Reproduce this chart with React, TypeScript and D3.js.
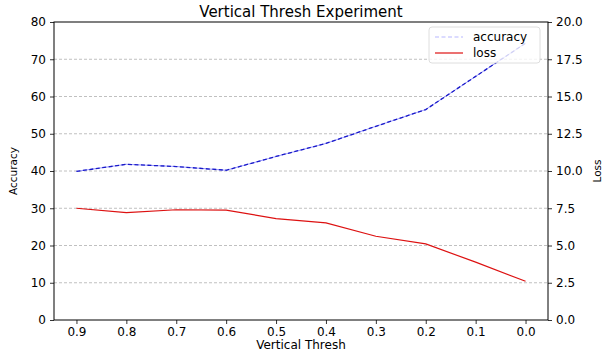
import { useEffect, useRef } from 'react';
import * as d3 from 'd3';

// threshold values along the (inverted) x axis
const thresholds = [0.9, 0.8, 0.7, 0.6, 0.5, 0.4, 0.3, 0.2, 0.1, 0.0];
// accuracy (left axis, %)
const accuracy = [39.9, 41.8, 41.2, 40.2, 43.9, 47.4, 52.0, 56.5, 65.4, 74.3];
// loss (right axis)
const loss = [7.5, 7.2, 7.4, 7.38, 6.8, 6.52, 5.62, 5.11, 3.88, 2.6];

const xTicks = [0.9, 0.8, 0.7, 0.6, 0.5, 0.4, 0.3, 0.2, 0.1, 0.0];
const accTicks = [0, 10, 20, 30, 40, 50, 60, 70, 80];
const lossTicks = [0, 2.5, 5, 7.5, 10, 12.5, 15, 17.5, 20];

const FONT = 'DejaVu Sans, sans-serif';

export default function App() {
	const svgRef = useRef<SVGSVGElement | null>(null);

	useEffect(() => {
		const svg = d3.select(svgRef.current);
		svg.selectAll('*').remove();

		const width = 604;
		const height = 352;
		const margin = { top: 22, right: 56, bottom: 32, left: 54 };
		const w = width - margin.left - margin.right;
		const h = height - margin.top - margin.bottom;

		svg.attr('width', width).attr('height', height).style('font-family', FONT);

		const g = svg.append('g').attr('transform', `translate(${margin.left},${margin.top})`);

		const x = d3.scaleLinear().domain([0.945, -0.045]).range([0, w]);
		const yAcc = d3.scaleLinear().domain([0, 80]).range([h, 0]);
		const yLoss = d3.scaleLinear().domain([0, 20]).range([h, 0]);

		// gridlines
		g.append('g')
			.selectAll('line')
			.data(accTicks.filter((t) => t > 0 && t < 80))
			.join('line')
			.attr('x1', 0)
			.attr('x2', w)
			.attr('y1', (d) => yAcc(d))
			.attr('y2', (d) => yAcc(d))
			.attr('stroke', '#b0b0b0')
			.attr('stroke-width', 0.8)
			.attr('stroke-dasharray', '3,2');

		// loss line
		const lossLine = d3
			.line<number>()
			.x((_, i) => x(thresholds[i]))
			.y((d) => yLoss(d));
		g.append('path')
			.datum(loss)
			.attr('d', lossLine)
			.attr('fill', 'none')
			.attr('stroke', '#dd1111')
			.attr('stroke-width', 1.2);

		// accuracy line
		const accLine = d3
			.line<number>()
			.x((_, i) => x(thresholds[i]))
			.y((d) => yAcc(d));
		g.append('path')
			.datum(accuracy)
			.attr('d', accLine)
			.attr('fill', 'none')
			.attr('stroke', '#9a9aff')
			.attr('stroke-width', 1);
		g.append('path')
			.datum(accuracy)
			.attr('d', accLine)
			.attr('fill', 'none')
			.attr('stroke', '#1a1ac8')
			.attr('stroke-width', 1.3)
			.attr('stroke-dasharray', '4,2.5');

		// axes
		const left = g.append('g').call(d3.axisLeft(yAcc).tickValues(accTicks).tickSize(4).tickPadding(4));
		const right = g
			.append('g')
			.attr('transform', `translate(${w},0)`)
			.call(d3.axisRight(yLoss).tickValues(lossTicks).tickSize(4).tickPadding(4).tickFormat(d3.format('.1f')));
		const bottom = g
			.append('g')
			.attr('transform', `translate(0,${h})`)
			.call(d3.axisBottom(x).tickValues(xTicks).tickSize(4).tickPadding(3).tickFormat(d3.format('.1f')));

		[left, right, bottom].forEach((a) => {
			a.select('.domain').remove();
			a.selectAll('line').attr('stroke', '#000').attr('stroke-width', 0.8);
			a.selectAll('text').attr('font-size', 12).attr('font-family', FONT).attr('fill', '#000');
		});

		// frame
		g.append('rect')
			.attr('width', w)
			.attr('height', h)
			.attr('fill', 'none')
			.attr('stroke', '#000')
			.attr('stroke-width', 1);

		// legend
		const legend = g.append('g').attr('transform', `translate(${w - 119},5)`);
		legend
			.append('rect')
			.attr('width', 111)
			.attr('height', 36)
			.attr('rx', 3)
			.attr('fill', 'rgba(255,255,255,0.8)')
			.attr('stroke', '#d6d6d6')
			.attr('stroke-width', 0.8);
		const items = [
			{ label: 'accuracy', color: '#b8b8ff', dash: '4,2.5' },
			{ label: 'loss', color: '#dd1111', dash: null as string | null },
		];
		items.forEach((item, i) => {
			const row = legend.append('g').attr('transform', `translate(0,${10 + i * 16})`);
			row.append('line')
				.attr('x1', 6)
				.attr('x2', 34)
				.attr('stroke', item.color)
				.attr('stroke-width', 1.2)
				.attr('stroke-dasharray', item.dash);
			row.append('text')
				.attr('x', 44)
				.attr('y', 4)
				.attr('font-size', 12)
				.attr('fill', '#000')
				.text(item.label);
		});

		// titles
		svg.append('text')
			.attr('x', margin.left + w / 2)
			.attr('y', 17)
			.attr('text-anchor', 'middle')
			.attr('font-size', 15)
			.text('Vertical Thresh Experiment');
		svg.append('text')
			.attr('x', margin.left + w / 2)
			.attr('y', 348.5)
			.attr('text-anchor', 'middle')
			.attr('font-size', 12)
			.text('Vertical Thresh');
		svg.append('text')
			.attr('transform', `translate(17,${margin.top + h / 2}) rotate(-90)`)
			.attr('text-anchor', 'middle')
			.attr('font-size', 10.5)
			.text('Accuracy');
		svg.append('text')
			.attr('transform', `translate(601,${margin.top + h / 2}) rotate(-90)`)
			.attr('text-anchor', 'middle')
			.attr('font-size', 10.5)
			.text('Loss');

		return () => {
			svg.selectAll('*').remove();
		};
	}, []);

	return (
		<div style={{ position: 'absolute', left: 0, top: 0 }}>
			<svg ref={svgRef} />
		</div>
	);
}
